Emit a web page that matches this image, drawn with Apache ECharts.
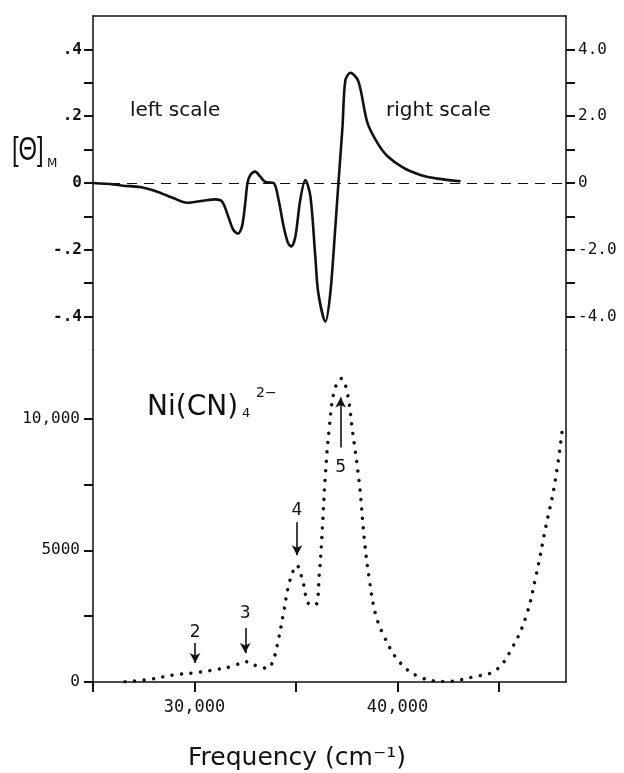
<!DOCTYPE html>
<html>
<head>
<meta charset="utf-8">
<script src="https://cdn.jsdelivr.net/npm/echarts@6/dist/echarts.min.js"></script>
<style>
html,body{margin:0;padding:0;background:#fff;}
#chart{width:624px;height:773px;}
</style>
</head>
<body>
<div id="chart"></div>
<script>
// ---- CD spectrum (top panel) ----
var cdFreq = [25000,26000,26480,27320,28160,28950,29640,30430,31020,31365,31660,31910,32140,32340,32500,32610,32750,32990,33240,33490,33900,34140,34390,34610,34770,34970,35210,35460,35710,35950,36100,36450,36690,36940,37090,37290,37430,37680,38070,38520,39010,39510,40300,41130,41970,43110];
var cdValue = [0,-0.004,-0.008,-0.012,-0.026,-0.045,-0.059,-0.053,-0.049,-0.056,-0.10,-0.14,-0.152,-0.13,-0.06,0,0.024,0.034,0.019,0.003,0,-0.05,-0.13,-0.18,-0.19,-0.16,-0.05,0.009,-0.04,-0.22,-0.33,-0.415,-0.33,-0.13,0.0,0.168,0.307,0.33,0.305,0.18,0.12,0.08,0.045,0.024,0.013,0.005];

// ---- Absorption spectrum (bottom panel) ----
var absFreq = [26580,27810,28950,30030,31120,31910,32500,33090,33590,33880,34130,34380,34620,34870,35020,35360,35610,35950,36150,36300,36450,36640,36890,37240,37530,37780,38120,38370,38620,38910,39360,40100,41090,42370,43700,44840,45670,46320,46810,47300,47750,48140];
var absValue = [10,100,265,352,480,606,770,606,519,833,1590,2600,3610,4240,4430,3740,2980,2920,4130,5870,7910,9660,11060,11520,10950,9550,7540,5380,3860,2600,1700,760,190,20,190,450,1330,2460,3980,5870,7540,9730];

// ---- band annotations: label, frequency, arrow tail, arrow tip, label value ----
var bandLabels = ['2','3','4','5'];
var bandFreq   = [30030,32500,35050,37200];
var bandTail   = [1480,2050,6060,8900];
var bandTip    = [720,1100,4810,10800];
var bandText   = [1890,2610,6510,8140];

// ---- tick values ----
var xTicks = [25000,30000,35000,40000,45000];
var xLabels = [30000,40000];
var cdLeftTicks = [-0.4,-0.3,-0.2,-0.1,0,0.1,0.2,0.3,0.4];
var cdLeftLabels = [-0.4,-0.2,0,0.2,0.4];
var cdRightTicks = [-4,-3,-2,-1,0,1,2,3,4];
var cdRightLabels = [-4,-2,0,2,4];
var absTicks = [0,2500,5000,7500,10000];
var absLabels = [0,5000,10000];

var FONT = 'DejaVu Sans';
var MONO = 'DejaVu Sans Mono';
var BLACK = '#111';

function thousands(v){
  if (v >= 10000) { var k = Math.floor(v/1000); var r = String(v%1000); while(r.length<3) r='0'+r; return k+','+r; }
  return String(v);
}

var cdData = cdFreq.map(function(f,i){return [f, cdValue[i]];});
var absData = absFreq.map(function(f,i){return [f, absValue[i]];});

var arrowLines = bandFreq.map(function(f,i){
  return [{coord:[f, bandTail[i]]},{coord:[f, bandTip[i]]}];
});
var arrowLabels = bandFreq.map(function(f,i){
  return {coord:[f, bandText[i]], value: bandLabels[i]};
});

var axisLineStyle = {color: BLACK, width: 1.5};

var chart = echarts.init(document.getElementById('chart'), null, {renderer:'canvas'});
chart.setOption({
  animation: false,
  backgroundColor: '#fff',
  grid: [
    {left: 93, right: 58, top: 16, height: 334},
    {left: 93, right: 58, top: 350, height: 332}
  ],
  xAxis: [
    {type:'value', gridIndex:0, min:25000, max:48300, position:'top',
     axisLine:{show:true, onZero:false, lineStyle:axisLineStyle},
     axisTick:{show:false}, axisLabel:{show:false}, splitLine:{show:false}},
    {type:'value', gridIndex:1, min:25000, max:48300, position:'bottom',
     axisLine:{show:true, onZero:false, lineStyle:axisLineStyle},
     axisTick:{show:true, customValues:xTicks, length:10, lineStyle:{color:BLACK,width:2}},
     axisLabel:{show:true, customValues:xLabels, formatter:thousands, color:BLACK, fontFamily:MONO, fontSize:17, margin:17},
     splitLine:{show:false}}
  ],
  yAxis: [
    {type:'value', gridIndex:0, min:-0.5, max:0.5, position:'left',
     axisLine:{show:true, onZero:false, lineStyle:axisLineStyle},
     axisTick:{show:true, customValues:cdLeftTicks, length:9, lineStyle:{color:BLACK,width:2}},
     axisLabel:{show:true, customValues:cdLeftLabels, color:BLACK, fontFamily:MONO, fontSize:16, fontWeight:'bold', margin:11,
       formatter:function(v){ if (Math.abs(v)<1e-9) return '0'; return (v<0?'-':'')+'.'+Math.round(Math.abs(v)*10); }},
     splitLine:{show:false}},
    {type:'value', gridIndex:0, min:-5, max:5, position:'right',
     axisLine:{show:true, onZero:false, lineStyle:axisLineStyle},
     axisTick:{show:true, customValues:cdRightTicks, length:9, lineStyle:{color:BLACK,width:2}},
     axisLabel:{show:true, customValues:cdRightLabels, color:BLACK, fontFamily:MONO, fontSize:16, margin:12,
       formatter:function(v){ if (Math.abs(v)<1e-9) return '0'; return (v<0?'-':'')+Math.abs(v).toFixed(1); }},
     splitLine:{show:false}},
    {type:'value', gridIndex:1, min:0, max:12600, position:'left',
     axisLine:{show:true, onZero:false, lineStyle:axisLineStyle},
     axisTick:{show:true, customValues:absTicks, length:9, lineStyle:{color:BLACK,width:2}},
     axisLabel:{show:true, customValues:absLabels, formatter:thousands, color:BLACK, fontFamily:MONO, fontSize:16, margin:13},
     splitLine:{show:false}},
    {type:'value', gridIndex:1, min:0, max:12600, position:'right',
     axisLine:{show:true, onZero:false, lineStyle:axisLineStyle},
     axisTick:{show:false}, axisLabel:{show:false}, splitLine:{show:false}}
  ],
  series: [
    {type:'line', name:'CD', xAxisIndex:0, yAxisIndex:0, data:cdData, smooth:0.3,
     showSymbol:false, symbol:'none', lineStyle:{color:BLACK, width:2.6}, z:3,
     markLine:{silent:true, symbol:['none','none'], label:{show:false},
       lineStyle:{color:BLACK, width:1.2, type:[10,7]}, data:[{yAxis:0}]}},
    {type:'line', name:'Absorption', xAxisIndex:1, yAxisIndex:2, data:absData, smooth:0.4,
     showSymbol:false, symbol:'none',
     lineStyle:{color:BLACK, width:3.5, type:[0.01,9.5], cap:'round'},
     markLine:{silent:true, symbol:['none','arrow'], symbolSize:[8,10], label:{show:false},
       lineStyle:{color:BLACK, width:1.6, type:'solid'}, data:arrowLines},
     markPoint:{silent:true, symbol:'circle', symbolSize:1, itemStyle:{color:'rgba(0,0,0,0)'},
       label:{show:true, position:'inside', formatter:function(p){return p.value;}, color:BLACK, fontFamily:FONT, fontSize:17},
       data:arrowLabels}}
  ],
  graphic: [
    {type:'text', left:130, top:101, style:{text:'left scale', font:'20px "DejaVu Sans"', fill:BLACK}},
    {type:'text', left:386, top:101, style:{text:'right scale', font:'20px "DejaVu Sans"', fill:BLACK}},
    {type:'text', left:147, top:394, style:{text:'Ni(CN)', font:'28px "DejaVu Sans"', fill:BLACK}},
    {type:'text', left:242, top:407, style:{text:'4', font:'13px "DejaVu Sans"', fill:BLACK}},
    {type:'text', left:256, top:386, style:{text:'2−', font:'14px "DejaVu Sans"', fill:BLACK}},
    {type:'text', left:12, top:134, scaleX:0.7, style:{text:'[Θ]', font:'34px "Liberation Sans"', fill:BLACK}},
    {type:'text', left:47, top:158, style:{text:'M', font:'12px "DejaVu Sans"', fill:BLACK}},
    {type:'text', left:188, top:746, style:{text:'Frequency (cm⁻¹)', font:'25px "DejaVu Sans"', fill:BLACK}}
  ]
});
</script>
</body>
</html>
